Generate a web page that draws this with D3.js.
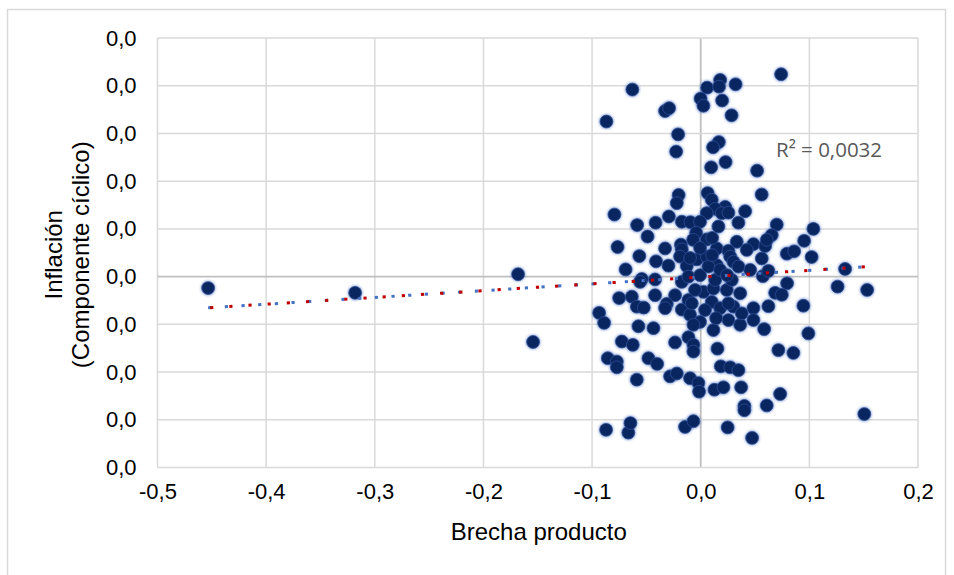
<!DOCTYPE html>
<html><head><meta charset="utf-8">
<script src="https://cdn.jsdelivr.net/npm/d3@7"></script>
<style>body{margin:0;background:#fff}</style>
</head><body>
<svg id="c" width="954" height="575"></svg>
<script>
// ---- data ----
const xTicks = [-0.5,-0.4,-0.3,-0.2,-0.1,0,0.1,0.2];
const xTickLabels = ["-0,5","-0,4","-0,3","-0,2","-0,1","0,0","0,1","0,2"];
const yTicks = [-0.04,-0.03,-0.02,-0.01,0,0.01,0.02,0.03,0.04,0.05];
const yTickLabels = ["0,0","0,0","0,0","0,0","0,0","0,0","0,0","0,0","0,0","0,0"];
const xTitle = "Brecha producto";
const yTitle = ["Inflación","(Componente cíclico)"];
const r2Label = "R² = 0,0032";
const trendSlope = 0.0142;
const trendIntercept = -0.0001;
// [brecha producto, inflación (componente cíclico)]
const observations = [
[-0.4534,-0.0024],[-0.3181,-0.0034],[-0.1681,0.0005],[-0.1543,-0.0137],
[0.0740,0.0424],[-0.0629,0.0392],[-0.0868,0.0325],[-0.0328,0.0347],[-0.0291,0.0353],[0.0179,0.0412],[0.0059,0.0396],[0.0169,0.0398],[0.0321,0.0403],[-0.0001,0.0373],[0.0025,0.0358],[0.0197,0.0369],[0.0284,0.0338],[-0.0208,0.0298],[-0.0226,0.0262],[0.0167,0.0282],[0.0114,0.0271],[0.0229,0.0240],[0.0096,0.0229],[0.0519,0.0222],
[0.0561,0.0172],[-0.0203,0.0171],[-0.0220,0.0154],[0.0064,0.0175],[0.0102,0.0161],[-0.0794,0.0130],[0.0225,0.0146],[0.0133,0.0142],[0.0056,0.0133],[0.0194,0.0133],[0.0255,0.0134],[0.0409,0.0137],[0.0347,0.0113],[-0.0293,0.0126],[-0.0415,0.0113],[-0.0585,0.0108],[-0.0174,0.0115],[-0.0095,0.0114],[-0.0006,0.0115],[0.0163,0.0105],[0.0700,0.0109],[0.1037,0.0100],[-0.0489,0.0084],[-0.0042,0.0092],[0.0056,0.0078],[-0.0765,0.0062],[-0.0328,0.0059],[-0.0182,0.0067],[-0.0174,0.0057],[0.0332,0.0073],[0.0485,0.0068],[0.0593,0.0064],[0.0654,0.0087],[0.0608,0.0077],[0.0424,0.0056],[0.0952,0.0075],[-0.0565,0.0043],[0.0148,0.0059],[0.0255,0.0054],[0.0793,0.0048],[0.0860,0.0053],[0.1021,0.0041],[0.0562,0.0038],[0.0271,0.0042],
[-0.0411,0.0032],[-0.0297,0.0023],[-0.0190,0.0042],[-0.0036,0.0036],[0.0056,0.0042],[0.0301,0.0031],[-0.0691,0.0015],[-0.0542,-0.0005],[-0.0128,0.0022],[0.0148,0.0024],[0.0455,0.0014],[0.1329,0.0016],[0.1260,-0.0021],[0.1532,-0.0028],[0.0795,-0.0014],[0.0572,0.0001],[0.0685,-0.0034],[0.0747,-0.0038],[-0.0751,-0.0045],[-0.0634,-0.0042],[-0.0558,-0.0011],[-0.0420,-0.0006],[-0.0420,-0.0039],[-0.0236,-0.0039],[-0.0312,-0.0057],[-0.0588,-0.0063],[-0.0524,-0.0065],[-0.0935,-0.0076],[-0.0889,-0.0097],[-0.0328,-0.0066],[-0.0174,-0.0069],[-0.0113,-0.0049],[-0.0098,-0.0080],[0.0025,-0.0032],[0.0117,-0.0025],[-0.0006,-0.0095],[0.0102,-0.0053],[0.0179,-0.0066],[0.0301,-0.0063],[0.0363,-0.0035],[0.0240,-0.0028],[0.0255,-0.0091],[0.0363,-0.0101],[0.0485,-0.0066],[0.0485,-0.0091],[0.0623,-0.0062],[0.0945,-0.0061],[0.0584,-0.0110],[0.0991,-0.0119],[0.0117,-0.0112],[-0.0067,-0.0101],[-0.0573,-0.0104],[-0.0435,-0.0108],[0.0347,0.0021],[0.0623,0.0012],[0.0286,-0.0007],[0.0255,-0.0056],[0.0378,-0.0077],[-0.0174,-0.0011],[-0.0113,0.0000],[-0.0006,0.0003],[0.0071,0.0021],[0.0133,-0.0007],[-0.0082,-0.0056],
[-0.0726,-0.0136],[-0.0625,-0.0143],[-0.0236,-0.0138],[-0.0113,-0.0127],[-0.0067,-0.0143],[-0.0067,-0.0157],[0.0154,-0.0151],[-0.0855,-0.0171],[-0.0772,-0.0178],[-0.0772,-0.0190],[-0.0481,-0.0171],[-0.0401,-0.0183],[0.0185,-0.0188],[0.0271,-0.0190],[0.0347,-0.0196],[0.0715,-0.0154],[0.0853,-0.0160],[-0.0588,-0.0216],[-0.0282,-0.0209],[-0.0220,-0.0203],[-0.0098,-0.0213],[-0.0021,-0.0223],[-0.0015,-0.0241],[0.0126,-0.0237],[0.0209,-0.0232],[0.0372,-0.0232],[0.0402,-0.0271],[0.0402,-0.0280],[0.0608,-0.0270],[0.0731,-0.0246],[0.1506,-0.0288],[-0.0871,-0.0321],[-0.0666,-0.0327],[-0.0647,-0.0307],[-0.0144,-0.0315],[-0.0067,-0.0303],[0.0248,-0.0316],[0.0473,-0.0338],
[-0.0070,0.0077],[0.0105,0.0081],[-0.0098,0.0039],[0.0179,0.0014],[-0.0006,0.0060],[0.0105,0.0045],[-0.0052,-0.0028],[0.0243,0.0003],[0.0040,-0.0070],[0.0142,-0.0087]
];

// ---- drawing ----
const svg = d3.select("#c");
const font = "'Liberation Sans', Arial, sans-serif";
const plot = {left:157.5, right:918, top:38, bottom:467.5};

const defs = svg.append("defs");
defs.append("filter").attr("id","glow").attr("x","-50%").attr("y","-50%").attr("width","200%").attr("height","200%")
  .append("feGaussianBlur").attr("stdDeviation",0.9);

svg.append("rect").attr("x",7.5).attr("y",9.5).attr("width",938).attr("height",620)
  .attr("fill","#fff").attr("stroke","#d9d9d9").attr("stroke-width",1.5);

const x = d3.scaleLinear().domain([-0.5,0.2]).range([plot.left, plot.right]);
const y = d3.scaleLinear().domain([-0.04,0.05]).range([plot.bottom, plot.top]);

// gridlines
const grid = svg.append("g");
grid.selectAll("line.v").data(xTicks).join("line")
  .attr("x1",d=>x(d)).attr("x2",d=>x(d)).attr("y1",plot.top).attr("y2",plot.bottom)
  .attr("stroke",d=>d===0?"#bfbfbf":"#d9d9d9").attr("stroke-width",d=>d===0?1.8:1.5);
grid.selectAll("line.h").data(yTicks).join("line")
  .attr("y1",d=>y(d)).attr("y2",d=>y(d)).attr("x1",plot.left).attr("x2",plot.right)
  .attr("stroke",d=>Math.abs(d)<1e-9?"#bfbfbf":"#d9d9d9").attr("stroke-width",d=>Math.abs(d)<1e-9?1.8:1.5);

// axes labels
const xAxis = d3.axisBottom(x).tickValues(xTicks).tickSize(0).tickPadding(16)
  .tickFormat((d,i)=>xTickLabels[i]);
const gx = svg.append("g").attr("transform",`translate(0,${plot.bottom})`).call(xAxis);
gx.select(".domain").remove();
gx.selectAll("text").attr("font-family",font).attr("font-size",22).attr("fill","#000");

const yAxis = d3.axisLeft(y).tickValues(yTicks).tickSize(0).tickPadding(21)
  .tickFormat((d,i)=>yTickLabels[i]);
const gy = svg.append("g").attr("transform",`translate(${plot.left},0)`).call(yAxis);
gy.select(".domain").remove();
gy.selectAll("text").attr("font-family",font).attr("font-size",22).attr("fill","#000");

// titles
svg.append("text").attr("x",(plot.left+plot.right)/2 + 1).attr("y",540)
  .attr("text-anchor","middle").attr("font-family",font).attr("font-size",24).attr("fill","#000")
  .text(xTitle);
const yt = svg.append("text").attr("transform",`translate(0,${(plot.top+plot.bottom)/2 + 2}) rotate(-90)`)
  .attr("text-anchor","middle").attr("font-family",font).attr("font-size",24).attr("fill","#000");
yTitle.forEach((t,i)=>yt.append("tspan").attr("x",0).attr("y",62+i*27).text(t));

// points (soft halo + dark core)
const pts = svg.append("g");
pts.selectAll("circle.halo").data(observations).join("circle").attr("class","halo")
  .attr("cx",d=>x(d[0])).attr("cy",d=>y(d[1])).attr("r",7.6)
  .attr("fill","#4f74c6").attr("fill-opacity",0.55).attr("filter","url(#glow)");
pts.selectAll("circle.core").data(observations).join("circle").attr("class","core")
  .attr("cx",d=>x(d[0])).attr("cy",d=>y(d[1])).attr("r",6.4)
  .attr("fill","#0a2660").attr("stroke","#2f4f95").attr("stroke-width",0.8);

// trendline (two overlaid dotted lines)
const xExt = d3.extent(observations, d=>d[0]);
const trend = xExt.map(v=>[v, trendSlope*v+trendIntercept]);
const line = d3.line().x(d=>x(d[0])).y(d=>y(d[1]));
svg.append("path").datum(trend).attr("d",line).attr("fill","none")
  .attr("stroke","#4472c4").attr("stroke-width",3).attr("stroke-dasharray","3.2,13.5");
svg.append("path").datum(trend).attr("d",line).attr("fill","none")
  .attr("stroke","#c00000").attr("stroke-width",3).attr("stroke-dasharray","3.2,16").attr("stroke-dashoffset",-2);

// R² label
svg.append("text").attr("x",776).attr("y",157).attr("font-family","'Open Sans','Noto Sans',sans-serif")
  .attr("font-size",20.5).attr("fill","#595959").text(r2Label);
</script>
</body></html>
